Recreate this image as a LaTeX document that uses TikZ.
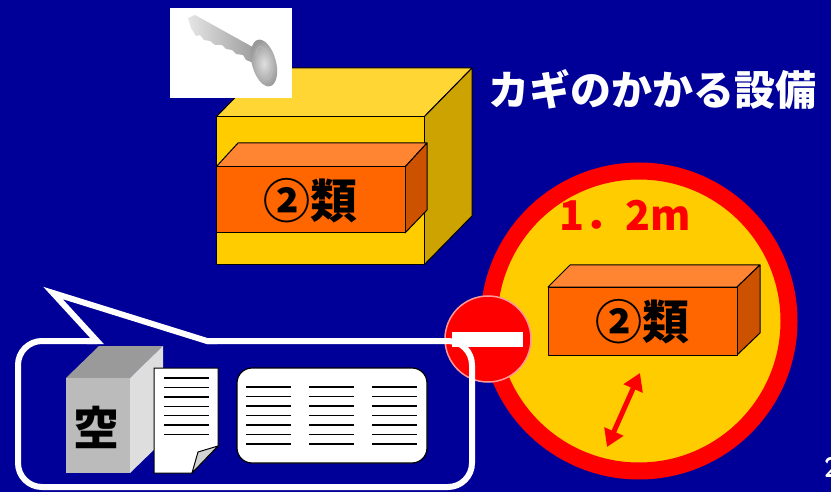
\documentclass[tikz,border=0pt]{standalone}
\usepackage{fontspec}
\newfontfamily\cjk{Noto Sans CJK JP}
\usetikzlibrary{arrows.meta}

\definecolor{bgblue}{RGB}{0,0,153}
\definecolor{boxfront}{RGB}{255,102,0}
\definecolor{boxtop}{RGB}{255,133,51}
\definecolor{boxside}{RGB}{204,82,0}
\definecolor{safefront}{RGB}{255,204,0}
\definecolor{safetop}{RGB}{255,214,51}
\definecolor{safeside}{RGB}{204,163,0}
\definecolor{ringred}{RGB}{255,0,0}
\definecolor{cabtop}{RGB}{154,154,154}
\definecolor{cabfront}{RGB}{187,187,187}
\definecolor{cabside}{RGB}{222,222,222}

\tikzset{
  face/.style={draw=black, line width=1pt, line join=round},
  kind/.style={font=\cjk\bfseries\fontsize{47}{47}\selectfont, inner sep=0pt},
  textline/.style={line width=1.4pt},
  bubble/.style={white, line width=6pt, line join=miter},
}

\begin{document}
\begin{tikzpicture}[x=1pt, y=-1pt]
  \fill[bgblue] (0,0) rectangle (831,492);
  \useasboundingbox (0,0) rectangle (831,492);

  % yellow safe
  \draw[face, fill=safetop] (216,117) -- (264,68) -- (472,68) -- (424,117) -- cycle;
  \draw[face, fill=safeside] (424,117) -- (472,68) -- (472,216) -- (424,265) -- cycle;
  \draw[face, fill=safefront] (216,117) rectangle (424,265);

  % class 2 box inside the safe
  \draw[face, fill=boxtop] (216,167) -- (238,143) -- (427,143) -- (405,167) -- cycle;
  \draw[face, fill=boxside] (405,167) -- (427,143) -- (427,210) -- (405,233) -- cycle;
  \draw[face, fill=boxfront] (216,167) rectangle (405,233);
  \node[kind] (safekind) at (310,201) {②類};

  % key picture
  \fill[white] (170,8) rectangle (292,98);
  \shade[left color=gray!20, right color=gray!80]
    (188,18) -- (195,15) -- (258,50) -- (256,64) -- (246,60) -- (243,55)
    -- (236,54) -- (232,50) -- (226,49) -- (222,45) -- (215,45) -- (210,41)
    -- (204,40) -- (200,35) -- (196,36) -- (191,28) -- cycle;
  \shade[inner color=gray!25, outer color=gray!80, rotate around={15:(264,63)}]
    (264,63) ellipse (12 and 24);
  \draw[gray!50, rotate around={15:(264,63)}] (264,63) ellipse (7 and 17);

  % distance circle
  \draw[ringred, fill=safefront, line width=17pt] (639,321) circle (150);
  \node[font=\cjk\bfseries\fontsize{41}{41}\selectfont, text=ringred, inner sep=0pt]
    (dist) at (625,215) {1．2m};

  % class 2 box inside the circle
  \draw[face, fill=boxtop] (548,287) -- (570,265) -- (760,265) -- (737,287) -- cycle;
  \draw[face, fill=boxside] (737,287) -- (760,265) -- (760,333) -- (737,355) -- cycle;
  \draw[face, fill=boxfront] (548,287) rectangle (737,355);
  \node[kind] (ringkind) at (642,322) {②類};

  \coordinate (gapTop) at (640,373);
  \coordinate (gapBot) at (607,447);
  \draw[ringred, line width=5pt,
        {Triangle[width=20pt,length=17pt]}-{Triangle[width=20pt,length=17pt]}]
    (gapTop) -- (gapBot);

  % no entry sign
  \draw[fill=ringred, draw=white!60!ringred, line width=1.5pt] (488,339) circle (43);
  \fill[white] (452,332) rectangle (523,347);

  % speech bubble
  \draw[bubble, rounded corners=24pt]
    (97,341) -- (18,341) -- (18,487) -- (472,487) -- (472,341) -- (207,341);
  \draw[bubble] (87,341) -- (97,341) -- (53,293) -- (207,341) -- (217,341);

  % empty cabinet
  \fill[cabtop] (66,378) -- (99,346) -- (163,346) -- (130,378) -- cycle;
  \fill[cabside] (130,378) -- (163,346) -- (163,441) -- (130,473) -- cycle;
  \fill[cabfront] (66,378) rectangle (130,473);
  \node[font=\cjk\bfseries\fontsize{46}{46}\selectfont, inner sep=0pt]
    (empty) at (96,427) {空};

  % sheet of paper
  \draw[fill=white, line width=1pt] (154,368) -- (218,368) -- (218,446)
    -- (192,473) -- (154,473) -- cycle;
  \draw[fill=gray!35, line width=1pt] (192,473) -- (198,452) -- (218,446) -- cycle;
  \foreach \y in {0,...,6}
    \draw[textline] (164,378+9.43*\y) -- (209,378+9.43*\y);

  % ledger
  \draw[fill=white, line width=1.2pt, rounded corners=15pt] (237,368) rectangle (427,463);
  \foreach \x in {246,309,372}
    \foreach \y in {0,...,6}
      \draw[textline] (\x,387+9.5*\y) -- (\x+45,387+9.5*\y);

  % heading
  \node[font=\cjk\bfseries\fontsize{41}{41}\selectfont, text=white, inner sep=0pt]
    (title) at (652,90) {カギのかかる設備};

  % page number, cut at the edge
  \node[font=\sffamily\bfseries\fontsize{28}{28}\selectfont, text=white,
        anchor=west, inner sep=0pt] (page) at (824,467) {2};
\end{tikzpicture}
\end{document}
